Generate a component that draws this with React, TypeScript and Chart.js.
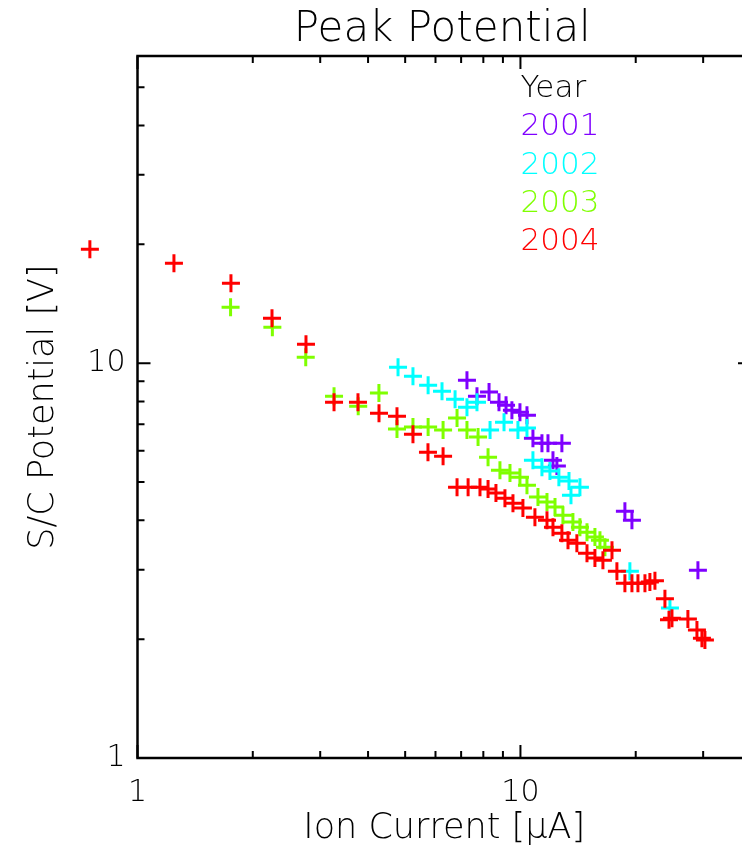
import React, { useEffect, useRef } from 'react';
import { Chart, registerables } from 'chart.js';

Chart.register(...registerables);

// ---------- data ----------
const years = ['2001', '2002', '2003', '2004'];
const yearColors = ['#7f00ff', '#00ffff', '#7fff00', '#ff0000'];

const current2001 = [7.25, 7.7, 8.28, 8.79, 9.17, 9.5, 9.97, 10.4, 10.78, 11.38, 11.8, 12.83, 12.16, 12.45, 18.74, 19.55, 29.07];
const potential2001 = [9.06, 8.25, 8.45, 7.96, 7.83, 7.6, 7.51, 7.38, 6.46, 6.27, 6.27, 6.27, 5.68, 5.49, 4.22, 4.0, 2.99];

const current2002 = [4.79, 5.24, 5.74, 6.24, 6.75, 7.25, 7.7, 8.33, 9.06, 9.85, 10.4, 10.78, 11.38, 11.94, 12.6, 13.39, 14.3, 13.55, 19.31, 24.57];
const potential2002 = [9.77, 9.27, 8.8, 8.49, 8.11, 7.74, 7.96, 6.77, 7.09, 6.77, 6.85, 5.68, 5.45, 5.33, 5.14, 5.03, 4.85, 4.63, 2.97, 2.4];

const current2003 = [1.75, 2.25, 2.75, 3.26, 3.77, 4.27, 4.76, 5.24, 5.74, 6.28, 6.83, 7.25, 7.75, 8.23, 8.84, 9.39, 9.97, 10.4, 11.11, 11.73, 12.31, 12.91, 13.71, 14.3, 14.92, 15.65, 16.13, 16.62];
const potential2003 = [13.86, 12.34, 10.36, 8.25, 7.78, 8.4, 6.81, 6.89, 6.89, 6.77, 7.26, 6.77, 6.5, 5.78, 5.36, 5.27, 5.14, 4.91, 4.58, 4.45, 4.32, 4.12, 3.96, 3.84, 3.73, 3.63, 3.56, 3.42];

const current2004 = [0.751, 1.245, 1.754, 2.245, 2.754, 3.26, 3.765, 4.272, 4.76, 5.24, 5.735, 6.28, 6.83, 7.3, 7.84, 8.23, 8.63, 9.11, 9.56, 10.15, 10.91, 11.73, 12.16, 12.83, 13.31, 14.04, 14.92, 15.65, 16.42, 17.34, 17.86, 18.74, 19.55, 20.27, 21.14, 21.78, 22.45, 23.84, 24.43, 24.87, 27.37, 28.9, 29.78, 30.32];
const potential2004 = [19.44, 17.92, 15.94, 13.0, 11.17, 7.96, 7.96, 7.47, 7.34, 6.61, 5.95, 5.81, 4.85, 4.85, 4.85, 4.8, 4.69, 4.55, 4.42, 4.3, 4.07, 4.0, 3.84, 3.71, 3.56, 3.5, 3.3, 3.21, 3.17, 3.36, 2.97, 2.77, 2.77, 2.77, 2.77, 2.79, 2.81, 2.53, 2.24, 2.26, 2.25, 2.11, 2.01, 1.99];

const currents = [current2001, current2002, current2003, current2004];
const potentials = [potential2001, potential2002, potential2003, potential2004];

const xRange = [1, 40];
const yRange = [1, 60];
const xTickLabels = [1, 10];
const yTickLabels = [1, 10];
const xMinorTicks = [2, 3, 4, 5, 6, 7, 8, 9, 20, 30];
const yMinorTicks = [2, 3, 4, 5, 6, 7, 8, 9, 20, 30, 40, 50];

const titleText = 'Peak Potential';
const xTitle = 'Ion Current [\u03bcA]';
const yTitle = 'S/C Potential [V]';
const legendTitle = 'Year';

// ---------- layout ----------
const CANVAS_W = 780;
const CANVAS_H = 851;
const VIEW_W = 742;
const FONT = '"DejaVu Sans", sans-serif';

// Chart.js skips point elements lying outside the chart area; IDL plotted them unclipped.
const outsidePointsPlugin = {
  id: 'outsidePoints',
  afterDatasetsDraw(chart: any) {
    const { ctx, chartArea: a } = chart;
    chart.data.datasets.forEach((_ds: any, i: number) => {
      const meta = chart.getDatasetMeta(i);
      meta.data.forEach((el: any) => {
        const o = el.options;
        const r = o.radius;
        const m = (r + o.borderWidth) / 2;
        const inside =
          el.x >= a.left - m && el.x <= a.right + m && el.y >= a.top - m && el.y <= a.bottom + m;
        if (inside) return;
        ctx.save();
        ctx.strokeStyle = o.borderColor;
        ctx.lineWidth = o.borderWidth;
        ctx.beginPath();
        ctx.moveTo(el.x - r, el.y);
        ctx.lineTo(el.x + r, el.y);
        ctx.moveTo(el.x, el.y - r);
        ctx.lineTo(el.x, el.y + r);
        ctx.stroke();
        ctx.restore();
      });
    });
  },
};

const framePlugin = {
  id: 'idlFrame',
  afterDraw(chart: any) {
    const { ctx, chartArea: a, scales } = chart;
    const xs = scales.x;
    const ys = scales.y;
    ctx.save();
    ctx.strokeStyle = '#000';
    ctx.lineWidth = 2.5;
    ctx.strokeRect(a.left, a.top, a.right - a.left, a.bottom - a.top);
    ctx.lineWidth = 2;
    const majorLen = 13;
    const minorLen = 7;
    const xTick = (v: number, len: number) => {
      const p = xs.getPixelForValue(v);
      ctx.beginPath();
      ctx.moveTo(p, a.bottom);
      ctx.lineTo(p, a.bottom - len);
      ctx.moveTo(p, a.top);
      ctx.lineTo(p, a.top + len);
      ctx.stroke();
    };
    const yTick = (v: number, len: number) => {
      const p = ys.getPixelForValue(v);
      ctx.beginPath();
      ctx.moveTo(a.left, p);
      ctx.lineTo(a.left + len, p);
      ctx.moveTo(a.right, p);
      ctx.lineTo(a.right - len, p);
      ctx.stroke();
    };
    xTickLabels.forEach((v) => xTick(v, majorLen));
    xMinorTicks.forEach((v) => xTick(v, minorLen));
    yTickLabels.forEach((v) => yTick(v, majorLen));
    yMinorTicks.forEach((v) => yTick(v, minorLen));

    // title
    ctx.fillStyle = '#000';
    ctx.font = `200 42px ${FONT}`;
    ctx.textAlign = 'center';
    ctx.textBaseline = 'alphabetic';
    ctx.fillText(titleText, (a.left + a.right) / 2 - 2, a.top - 15);

    // legend
    ctx.textAlign = 'left';
    ctx.font = `200 31px ${FONT}`;
    const lx = a.left + 383;
    const ly = a.top + 41;
    const step = 38.3;
    ctx.fillStyle = '#000';
    ctx.fillText(legendTitle, lx, ly);
    years.forEach((y, i) => {
      ctx.fillStyle = yearColors[i];
      ctx.fillText(y, lx, ly + step * (i + 1));
    });
    ctx.restore();
  },
};

export default function App() {
  const ref = useRef<HTMLCanvasElement | null>(null);

  useEffect(() => {
    if (!ref.current) return;
    const datasets = years.map((y, i) => ({
      label: y,
      data: currents[i].map((x, j) => ({ x, y: potentials[i][j] })),
      pointStyle: 'cross',
      pointRadius: 9,
      pointHoverRadius: 9,
      pointBorderWidth: 3,
      borderColor: yearColors[i],
      backgroundColor: yearColors[i],
      showLine: false,
      clip: false,
      order: years.length - 1 - i,
    }));
    const tickFont = { family: FONT, size: 30, weight: '200' };
    const titleFont = { family: FONT, size: 35, weight: '200' };
    const chart = new Chart(ref.current, {
      type: 'scatter',
      data: { datasets } as any,
      options: {
        responsive: false,
        animation: false,
        devicePixelRatio: 1,
        layout: { padding: { top: 56, right: CANVAS_W - 751, left: 0, bottom: 0 } },
        plugins: { legend: { display: false }, tooltip: { enabled: false }, title: { display: false } },
        scales: {
          x: {
            type: 'logarithmic',
            position: 'bottom',
            bounds: 'data',
            grid: { display: false, drawTicks: false },
            border: { display: false },
            afterDataLimits: (s: any) => {
              s.min = xRange[0];
              s.max = xRange[1];
            },
            afterBuildTicks: (s: any) => {
              s.ticks = xTickLabels.map((v) => ({ value: v }));
            },
            afterFit: (s: any) => {
              s.height = 93;
            },
            ticks: {
              autoSkip: false,
              maxRotation: 0,
              padding: 17,
              color: '#000',
              font: tickFont,
              callback: (v: any) => String(v),
            },
            title: { display: true, text: xTitle, color: '#000', font: titleFont, padding: { top: 0, bottom: 1 } },
          },
          y: {
            type: 'logarithmic',
            position: 'left',
            bounds: 'data',
            grid: { display: false, drawTicks: false },
            border: { display: false },
            afterDataLimits: (s: any) => {
              s.min = yRange[0];
              s.max = yRange[1];
            },
            afterBuildTicks: (s: any) => {
              s.ticks = yTickLabels.map((v) => ({ value: v }));
            },
            afterFit: (s: any) => {
              s.width = 137.5;
            },
            ticks: {
              autoSkip: false,
              padding: 12,
              color: '#000',
              font: tickFont,
              callback: (v: any) => String(v),
            },
            title: { display: true, text: yTitle, color: '#000', font: titleFont, padding: { top: 23, bottom: 0 } },
          },
        },
      } as any,
      plugins: [outsidePointsPlugin, framePlugin],
    });
    return () => chart.destroy();
  }, []);

  return (
    <div
      style={{
        position: 'absolute',
        left: 0,
        top: 0,
        width: VIEW_W,
        height: CANVAS_H,
        overflow: 'hidden',
        background: '#fff',
      }}
    >
      <canvas ref={ref} width={CANVAS_W} height={CANVAS_H} style={{ display: 'block', width: CANVAS_W, height: CANVAS_H }} />
    </div>
  );
}
